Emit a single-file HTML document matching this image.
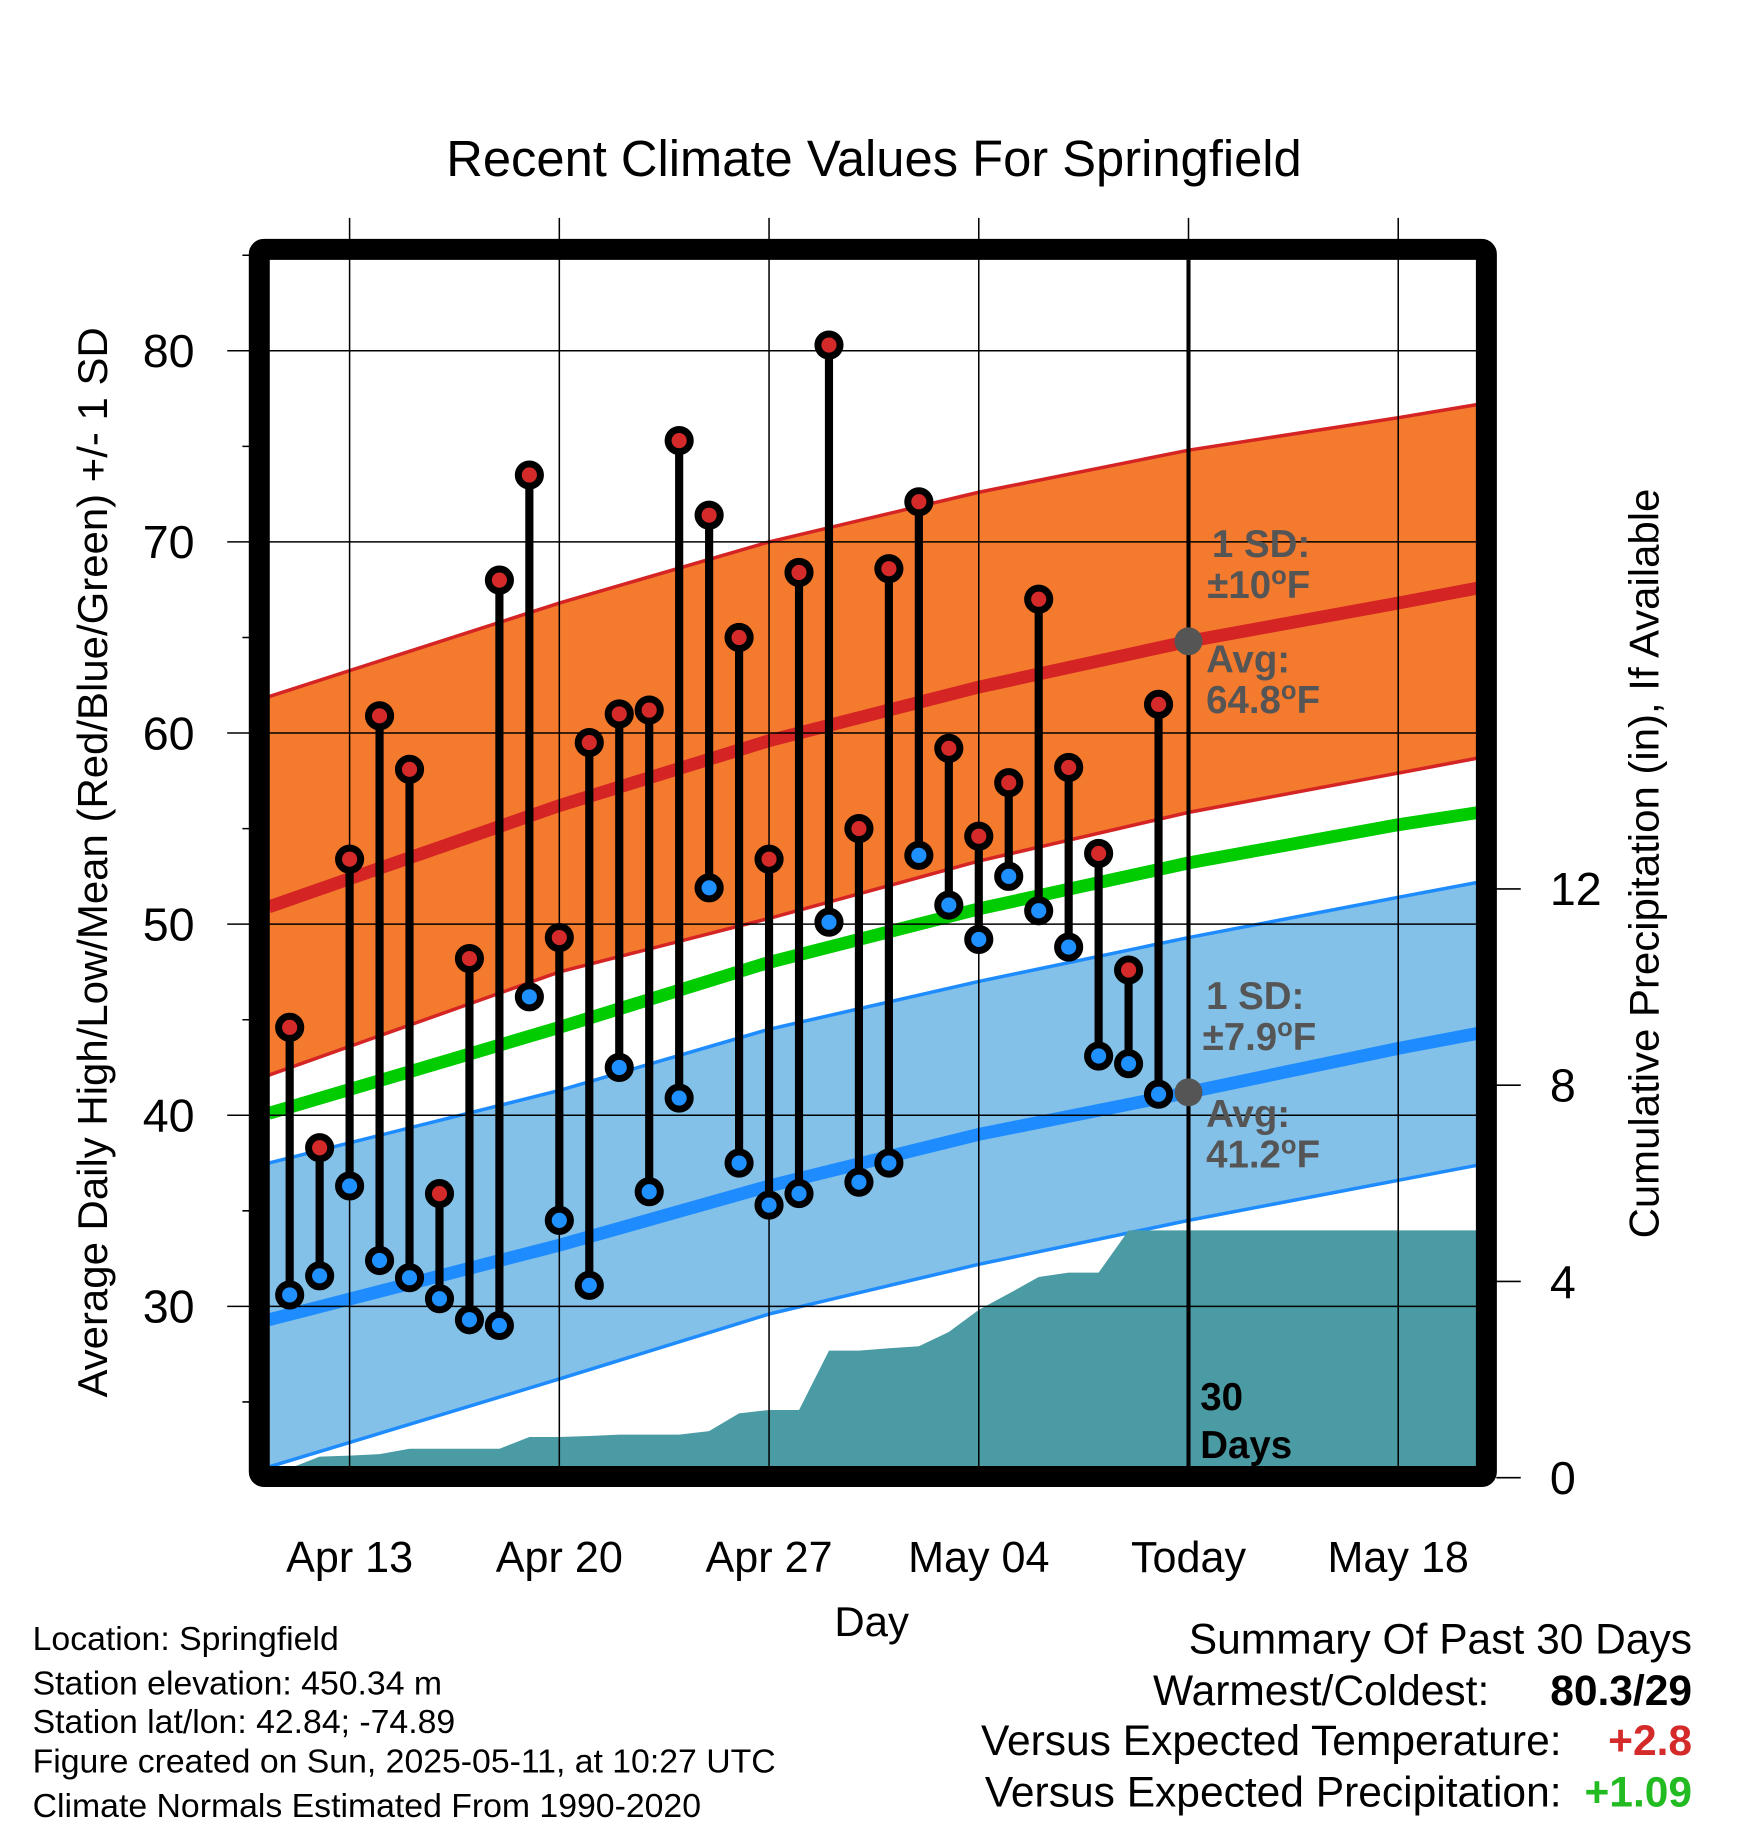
<!DOCTYPE html>
<html><head><meta charset="utf-8"><style>
html,body{margin:0;padding:0;background:#fff}
svg{display:block}
text{font-family:"Liberation Sans",Arial,sans-serif}
</style></head><body>
<svg id="chart" width="1748" height="1828" viewBox="0 0 1500 1568.6" preserveAspectRatio="none" xmlns="http://www.w3.org/2000/svg">
<text x="750" y="151" font-size="43.5" text-anchor="middle">Recent Climate Values For Springfield</text>
<g id="plot"></g>
<text transform="translate(92,740) rotate(-90)" font-size="36" text-anchor="middle">Average Daily High/Low/Mean (Red/Blue/Green) +/- 1 SD</text>
<text transform="translate(1423,741) rotate(-90)" font-size="36" text-anchor="middle">Cumulative Precipitation (in), If Available</text>
<text x="748" y="1404" font-size="36" text-anchor="middle">Day</text>
<g font-size="29">
<text x="28" y="1416">Location: Springfield</text>
<text x="28" y="1454">Station elevation: 450.34 m</text>
<text x="28" y="1487">Station lat/lon: 42.84; -74.89</text>
<text x="28" y="1521">Figure created on Sun, 2025-05-11, at 10:27 UTC</text>
<text x="28" y="1559">Climate Normals Estimated From 1990-2020</text>
</g>
<g font-size="36.5">
<text x="1452" y="1419" text-anchor="end">Summary Of Past 30 Days</text>
<text x="1278" y="1463" text-anchor="end">Warmest/Coldest:</text>
<text x="1452" y="1463" text-anchor="end" font-weight="bold">80.3/29</text>
<text x="1340" y="1506" text-anchor="end">Versus Expected Temperature:</text>
<text x="1452" y="1506" text-anchor="end" font-weight="bold" fill="#d42a2a">+2.8</text>
<text x="1340" y="1550" text-anchor="end">Versus Expected Precipitation:</text>
<text x="1452" y="1550" text-anchor="end" font-weight="bold" fill="#22bb22">+1.09</text>
</g>
</svg>
<script>
// days: 0 = Apr 13
const obsDays = [-2,-1,0,1,2,3,4,5,6,7,8,9,10,11,12,13,14,15,16,17,18,19,20,21,22,23,24,25,26,27];
const highs = [44.6,38.3,53.4,60.9,58.1,35.9,48.2,68.0,73.5,49.3,59.5,61.0,61.2,75.3,71.4,65.0,53.4,68.4,80.3,55.0,68.6,72.1,59.2,54.6,57.4,67.0,58.2,53.7,47.6,61.5];
const lows = [30.6,31.6,36.3,32.4,31.5,30.4,29.3,29.0,46.2,34.5,31.1,42.5,36.0,40.9,51.9,37.5,35.3,35.9,50.1,36.5,37.5,53.6,51.0,49.2,52.5,50.7,48.8,43.1,42.7,41.1];
const precip = [0.19,0.43,0.45,0.48,0.59,0.59,0.59,0.59,0.83,0.83,0.85,0.88,0.88,0.88,0.95,1.31,1.38,1.38,2.59,2.59,2.64,2.68,2.97,3.42,3.75,4.09,4.18,4.18,5.04,5.04];
const normDays = [-2.7,7,14,21,28,35,37.7];
const normHigh = [50.9,56.2,59.6,62.4,64.8,66.8,67.6];
const highUpper = [61.9,66.8,70.0,72.6,74.8,76.5,77.2];
const highLower = [42.1,47.5,50.3,53.3,55.85,57.9,58.7];
const normMean = [40.1,44.6,48.0,50.8,53.2,55.2,55.85];
const normLow = [29.3,33.2,36.3,39.0,41.2,43.5,44.3];
const lowUpper = [37.5,41.3,44.5,47.0,49.3,51.4,52.2];
const lowLower = [21.6,26.2,29.6,32.2,34.5,36.6,37.4];
const yTicks = [30,40,50,60,70,80];
const y2Ticks = [0,4,8,12];
const xTickDays = [0,7,14,21,28,35];
const xTickLabels = ['Apr 13','Apr 20','Apr 27','May 04','Today','May 18'];
const todayDay = 28;

const NS='http://www.w3.org/2000/svg';
const X0=230,X1=1268,Y0=223,Y1=1260;
const xs=d=>300+d*25.71;
const ys=v=>957-(v-40)*16.4;
const y2=v=>1268-v*42.1;
const g=document.getElementById('plot');
function mk(tag,attrs,parent){const e=document.createElementNS(NS,tag);for(const k in attrs)e.setAttribute(k,attrs[k]);(parent||g).appendChild(e);return e;}
const defs=mk('defs',{});
const cp=mk('clipPath',{id:'clip'},defs);mk('rect',{x:X0,y:Y0,width:X1-X0,height:Y1-Y0},cp);
const pg=mk('g',{'clip-path':'url(#clip)'});
function linePts(arr){return normDays.map((d,i)=>xs(d).toFixed(1)+','+ys(arr[i]).toFixed(1));}
function band(up,lo,fill,edge,name){
  const p=linePts(up).concat(linePts(lo).reverse());
  const e=mk('polygon',{points:p.join(' '),fill:fill},pg);
  
  
  [up,lo].forEach(a=>{mk('polyline',{points:linePts(a).join(' '),fill:'none',stroke:edge,'stroke-width':3},pg);});
}
band(highUpper,highLower,'#f47a2e','#d42424','high-sd-band');
band(lowUpper,lowLower,'#84c1e8','#1e8cff','low-sd-band');
{
  let pts=[X0+','+Y1, X0+','+y2(precip[0]).toFixed(1)];
  obsDays.forEach((d,i)=>pts.push(xs(d).toFixed(1)+','+y2(precip[i]).toFixed(1)));
  pts.push(X1+','+y2(precip[precip.length-1]).toFixed(1));pts.push(X1+','+Y1);
  const e=mk('polygon',{points:pts.join(' '),fill:'#4a9ba4'},pg);
  
  
}
[[normHigh,'#d42424','normal-high-line'],[normMean,'#00cc00','normal-mean-line'],[normLow,'#1e8cff','normal-low-line']].forEach(([a,c,n])=>{
  const e=mk('polyline',{points:linePts(a).join(' '),fill:'none',stroke:c,'stroke-width':11},pg);
  
  
});
yTicks.forEach(v=>{
  mk('line',{x1:195,x2:X1,y1:ys(v),y2:ys(v),stroke:'#000','stroke-width':1.3});
  const t=mk('text',{x:167,y:ys(v)+14,'font-size':40,'text-anchor':'end'});t.textContent=v;
  
  
});
for(let v=25;v<=85;v+=5){if(v%10)mk('line',{x1:208,x2:X0,y1:ys(v),y2:ys(v),stroke:'#000','stroke-width':1.3});}
xTickDays.forEach((d,i)=>{
  mk('line',{x1:xs(d),x2:xs(d),y1:187,y2:Y1,stroke:'#000','stroke-width':1.3});
  const t=mk('text',{x:xs(d),y:1349,'font-size':37,'text-anchor':'middle'});t.textContent=xTickLabels[i];
  
  
});
y2Ticks.forEach(v=>{
  mk('line',{x1:1284,x2:1305,y1:y2(v),y2:y2(v),stroke:'#000','stroke-width':1.3});
  const t=mk('text',{x:1330,y:y2(v)+14,'font-size':40});t.textContent=v;
  
  
});
{const e=mk('line',{x1:xs(todayDay),x2:xs(todayDay),y1:Y0,y2:Y1,stroke:'#000','stroke-width':3.5});

}
obsDays.forEach((d,i)=>{
  const x=xs(d);
  const s=mk('line',{x1:x,x2:x,y1:ys(highs[i]),y2:ys(lows[i]),stroke:'#000','stroke-width':7});
  
  
});
obsDays.forEach((d,i)=>{
  const x=xs(d);
  const h=mk('circle',{cx:x,cy:ys(highs[i]),r:9.5,fill:'#d42a2a',stroke:'#000','stroke-width':6});
  
  
  const l=mk('circle',{cx:x,cy:ys(lows[i]),r:9.5,fill:'#1e90ff',stroke:'#000','stroke-width':6});
  
  
});
[normHigh,normLow].forEach(a=>{
  const e=mk('circle',{cx:xs(todayDay),cy:ys(a[4]),r:12,fill:'#555'});
  
  
});
{const e=mk('rect',{x:222.5,y:214,width:1053,height:1053,fill:'none',stroke:'#000','stroke-width':18,rx:4});

}
function ann(x,y,txt,name,fill,sup){
  const t=mk('text',{x:x,y:y,'font-size':33,'font-weight':'bold',fill:fill||'#555'});
  
  
  if(sup){const [a,b]=txt.split('°');t.appendChild(document.createTextNode(a));const s=mk('tspan',{dy:-12,'font-size':22},t);s.textContent='o';const r=mk('tspan',{dy:12},t);r.textContent=b;}
  else t.textContent=txt;
}
ann(1040,478,'1 SD:','high-sd-label');
ann(1036,513,'±10°F','high-sd-value',null,true);
ann(1035,577,'Avg:','high-avg-label');
ann(1035,612,'64.8°F','high-avg-value',null,true);
ann(1035,866,'1 SD:','low-sd-label');
ann(1032,901,'±7.9°F','low-sd-value',null,true);
ann(1035,967,'Avg:','low-avg-label');
ann(1035,1002,'41.2°F','low-avg-value',null,true);
ann(1030,1210,'30','days-count-label','#000');
ann(1030,1251,'Days','days-label','#000');
</script>
</body></html>
